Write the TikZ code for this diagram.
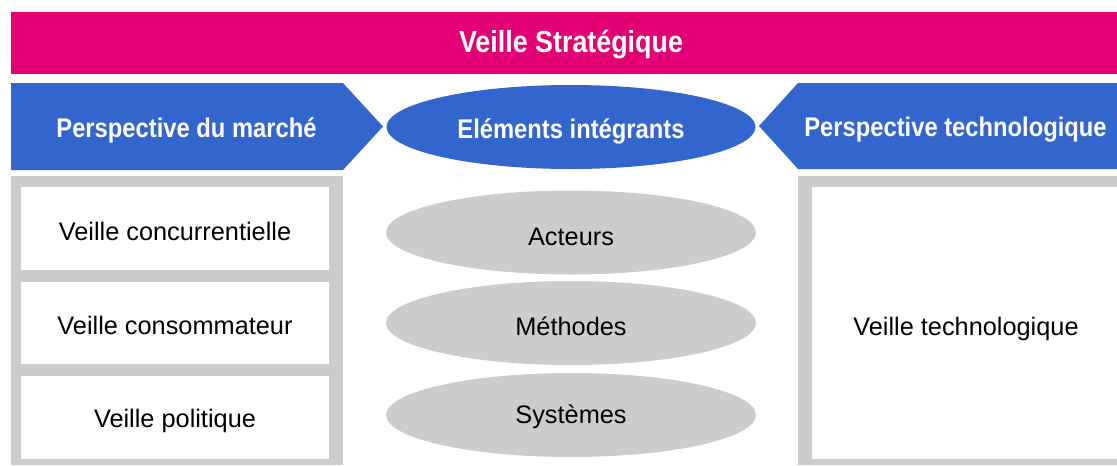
\documentclass[tikz,border=0pt]{standalone}
\usepackage{fontspec}
\setmainfont{Liberation Sans}
\newfontfamily\condfont[FakeStretch=0.88]{Liberation Sans}
\usetikzlibrary{shapes.geometric}
\definecolor{tmagenta}{RGB}{226,0,116}
\definecolor{tblue}{RGB}{51,102,204}
\definecolor{tgray}{RGB}{204,204,204}
\tikzset{
  boldtxt/.style={text=white,yshift=-1.5pt,font=\condfont\bfseries\fontsize{20.25}{24}\selectfont},
  headtxt/.style={text=white,yshift=-1pt,font=\condfont\bfseries\fontsize{22.9}{27}\selectfont},
  regtxt/.style={text=black,yshift=-2pt,font=\fontsize{19}{23}\selectfont},
  grayell/.style={ellipse,fill=tgray,minimum width=277.5pt,minimum height=63pt,inner sep=0pt},
  whitebox/.style={fill=white,draw=none},
}
\begin{document}
\begin{tikzpicture}[x=0.75pt,y=-0.75pt]
\useasboundingbox (0,0) rectangle (1117,465);
% header bar
\fill[tmagenta] (11,12) rectangle (1117,74);
\node[headtxt] (head) at (571,43) {Veille Stratégique};
% left pentagon
\fill[tblue] (11,83) -- (343,83) -- (383,126.5) -- (343,170) -- (11,170) -- cycle;
\node[boldtxt] (pmarche) at (186.5,128) {Perspective du marché};
% center ellipse
\node[ellipse,fill=tblue,minimum width=276.75pt,minimum height=63pt,inner sep=0pt] (elem) at (571,127) {};
\node[boldtxt] (elemtxt) at (571,129) {Eléments intégrants};
% right pentagon
\fill[tblue] (1117,83) -- (798,83) -- (759,126) -- (798,169) -- (1117,169) -- cycle;
\node[boldtxt] (ptech) at (955.5,128) {Perspective technologique};
% left frame
\fill[tgray] (11,176) rectangle (343,465);
\fill[whitebox] (21,187) rectangle (329,270);
\fill[whitebox] (21,282) rectangle (329,364);
\fill[whitebox] (21,376) rectangle (329,459);
\node[regtxt] (vconc) at (175,229) {Veille concurrentielle};
\node[regtxt] (vcons) at (175,323) {Veille consommateur};
\node[regtxt] (vpol) at (175,418) {Veille politique};
% center gray ellipses
\node[grayell] (act) at (571,232.5) {};
\node[regtxt] (acttxt) at (571,234) {Acteurs};
\node[grayell] (meth) at (571,323) {};
\node[regtxt] (methtxt) at (571,324) {Méthodes};
\node[grayell] (sys) at (571,415) {};
\node[regtxt] (systxt) at (571,414) {Systèmes};
% right frame
\fill[tgray] (798,176) rectangle (1117,465);
\fill[whitebox] (812,187) rectangle (1117,459);
\node[regtxt] (vtech) at (966,326) {Veille technologique};
\end{tikzpicture}
\end{document}
